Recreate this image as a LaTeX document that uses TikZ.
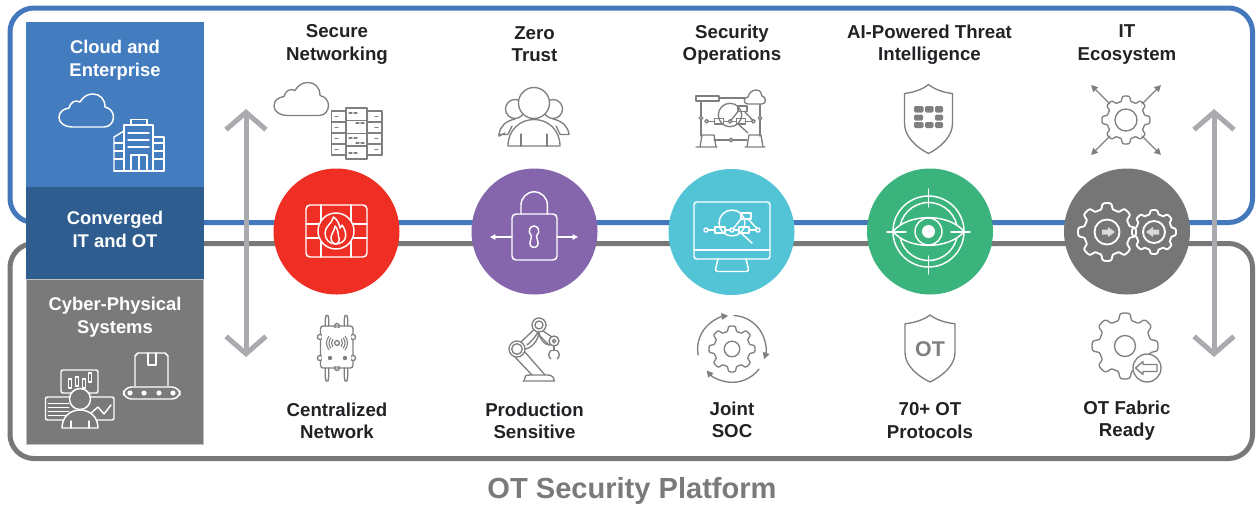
\documentclass[tikz,border=0pt]{standalone}
\usepackage{fontspec}
\setmainfont{Liberation Sans}
\usetikzlibrary{arrows.meta}
\definecolor{frameblue}{HTML}{4379BC}
\definecolor{framegray}{HTML}{787878}
\definecolor{panelblue}{HTML}{437CBF}
\definecolor{paneldark}{HTML}{2F5D90}
\definecolor{panelgray}{HTML}{7A7A7A}
\definecolor{arrowgray}{HTML}{A9ABAE}
\definecolor{iconline}{HTML}{7F7F80}
\definecolor{inkdark}{HTML}{222226}
\definecolor{cred}{HTML}{F02F24}
\definecolor{cpurple}{HTML}{8566AC}
\definecolor{ccyan}{HTML}{53C4D6}
\definecolor{cgreen}{HTML}{3BB37D}
\definecolor{cgray}{HTML}{767676}
\tikzset{
 frameline/.style={line width=3.75pt,rounded corners=18pt},
 head/.style={font=\bfseries\fontsize{14pt}{16.6pt}\selectfont,text=inkdark,align=center,inner sep=0pt},
 panelhead/.style={font=\bfseries\fontsize{13.8pt}{17.2pt}\selectfont,text=white,align=center,inner sep=0pt},
 bigdot/.style={circle,inner sep=0pt,minimum size=94.5pt},
 gi/.style={draw=iconline,line width=1pt,line join=round,line cap=round},
 wi/.style={draw=white,line width=1.1pt,line join=round,line cap=round},
 updown/.style={draw=arrowgray,line width=3.75pt,{Straight Barb[length=13pt,width=30pt,line width=3.75pt]}-{Straight Barb[length=13pt,width=30pt,line width=3.75pt]}},
}
\newcommand{\gearicon}[6]{% style, cx, cy, ro, ri, phase-free
 \draw[#1] plot[domain=0:360,samples=289,variable=\t,smooth] ({#2+(#4+#5)/2*1+(#4-#5)/2*tanh(2.6*cos(#6*\t))-0*\t)*cos(\t)},{0});}
\newcommand{\gearshape}[6]{%
 \draw[#1] plot[domain=0:360,samples=241,variable=\t] ({#2+((#4+#5)/2+(#4-#5)/2*tanh(2.6*cos(#6*\t)))*cos(\t)},{#3+((#4+#5)/2+(#4-#5)/2*tanh(2.6*cos(#6*\t)))*sin(\t)}) -- cycle;}
\newcommand{\cloudshape}[1]{%
 (72,127) -- (104,127) .. controls (110,127) and (113.5,122) .. (113.5,117) .. controls (113.5,112) and (110,108) .. (105,107) .. controls (105,99) and (100,94) .. (93,94) .. controls (87,94) and (83,97) .. (80,102) .. controls (75,99) and (70,103) .. (69,108) .. controls (63,109) and (59,112) .. (59,117.5) .. controls (59,123) and (65,127) .. (72,127) -- cycle}
\newcommand{\netglyph}[1]{% origin at glyph circle centre, px of the cyan icon
 \draw[#1] (0,0) circle (13);
 \draw[#1] (-26,7) circle (2) (26,7) circle (2) (0,7) circle (2);
 \draw[#1] (-24,7) -- (-17,7) (-7,7) -- (-2,7) (2,7) -- (7,7) (17,7) -- (24,7);
 \draw[#1] (-17,4) rectangle (-7,10);
 \draw[#1] (7,4) rectangle (17,10);
 \draw[#1] (9,-10) rectangle (19,-4);
 \draw[#1] (1,6) -- (9,-4) (16,-4) -- (25,5.5);
 \draw[#1] (9,10) -- (20,20);
}
\begin{document}
\begin{tikzpicture}[x=0.75pt,y=-0.75pt]
\useasboundingbox (0,0) rectangle (1260,508);
% frames
\draw[frameline,draw=frameblue] (10,8) rectangle (1252.5,222.5);
\draw[frameline,draw=framegray] (10,243.5) rectangle (1252.5,458.5);
% left panels
\fill[panelblue] (26,22) rectangle (204,187);
\fill[paneldark] (26,187) rectangle (204,279);
\draw[fill=panelgray,draw=black!25,line width=0.4pt] (26.3,279) rectangle (203.7,444);
\node[panelhead] (pcloud) at (115,60) {Cloud and\\Enterprise};
\node[panelhead] (pconv) at (115,229) {Converged\\IT and OT};
\node[panelhead] (pcyber) at (115,317) {Cyber-Physical\\Systems};
% cloud + building
\draw[wi] \cloudshape{};
\draw[wi] (124,171) -- (124,125) -- (153,125) -- (153,171);
\draw[wi] (131,125) -- (131,119.5) -- (147,119.5) -- (147,125);
\draw[wi] (114,171) -- (114,137) -- (124,131);
\draw[wi] (153,137) -- (164,137) -- (164,171) -- (114,171);
\draw[wi] (128,133) -- (149,133) (128,140) -- (149,140) (128,147) -- (149,147);
\draw[wi] (131,171) -- (131,155) -- (147,155) -- (147,171) (139,155) -- (139,171);
\foreach \yy in {143,151,159}{\draw[wi,line width=0.8pt] (114,\yy) -- (124,\yy) (153,\yy) -- (164,\yy);}
% conveyor
\draw[wi] (135,386) -- (135,356) -- (138,353) -- (165,353) -- (168,356) -- (168,386);
\draw[wi] (148,353) -- (148,365) -- (156,365) -- (156,353);
\draw[wi,rounded corners=6pt] (123.5,387) rectangle (180,399);
\foreach \xx in {130,144,159,173}{\fill[white] (\xx,393) circle (2.6);}
% person + screens
\draw[wi,rounded corners=1.5pt] (61,370) rectangle (98,393);
\foreach \xx/\tt in {68.5/379,75.5/377,82.5/379,88.5/373}{\draw[wi,line width=0.8pt] (\xx,\tt) rectangle ++(3,9);}
\draw[wi,rounded corners=1.5pt] (45.5,397) rectangle (114,420);
\foreach \yy in {403,407,411,415}{\draw[wi,line width=0.7pt] (48,\yy) -- (69,\yy);}
\draw[wi] (91,413) -- (98,407) -- (104,414) -- (111,405);
\draw[wi,fill=panelgray] (62,428) .. controls (62,417) and (70,410) .. (80,410) .. controls (90,410) and (98,417) .. (98,428) -- cycle;
\draw[wi,fill=panelgray] (80,399) circle (10.5);
\draw[wi,line width=0.8pt] (71,428) -- (71,421) (89,428) -- (89,421);
% arrows
\coordinate (la) at (246,109);\coordinate (lb) at (246,357);
\coordinate (ra) at (1214,109);\coordinate (rb) at (1214,357);
\draw[updown] (la) -- (lb);
\draw[updown] (ra) -- (rb);
% dots
\node[bigdot,fill=cred] (c1) at (336.5,231.5) {};
\node[bigdot,fill=cpurple] (c2) at (534.5,231.5) {};
\node[bigdot,fill=ccyan] (c3) at (731.5,232) {};
\node[bigdot,fill=cgreen] (c4) at (930,231.5) {};
\node[bigdot,fill=cgray] (c5) at (1127,231.5) {};
% headings
\node[head] (h1) at (337,44.5) {Secure\\Networking};
\node[head] (h2) at (534.5,44.5) {Zero\\Trust};
\node[head] (h3) at (732,44.5) {Security\\Operations};
\node[head] (h4) at (929.5,44.5) {AI-Powered Threat\\Intelligence};
\node[head] (h5) at (1127,44.5) {IT\\Ecosystem};
\node[head] (b1) at (337,420.5) {Centralized\\Network};
\node[head] (b2) at (534.5,420.5) {Production\\Sensitive};
\node[head] (b3) at (732,420) {Joint\\SOC};
\node[head] (b4) at (930,420.5) {70+ OT\\Protocols};
\node[head] (b5) at (1127,420.5) {OT Fabric\\Ready};
\node[font=\bfseries\fontsize{21.8pt}{24pt}\selectfont,text=panelgray,inner sep=0pt] (title) at (632,491) {OT Security Platform};
% --- secure networking
\begin{scope}[shift={(215,-11.5)}]\draw[gi] \cloudshape{};\end{scope}
\draw[gi] (331.5,111) rectangle (346,155);
\draw[gi] (367,111) rectangle (382,155);
\draw[gi,fill=white] (346,108) rectangle (367,159);
\foreach \yy in {122,133,144}{\draw[gi] (331.5,\yy) -- (346,\yy) (367,\yy) -- (382,\yy);}
\foreach \yy in {120.5,133.5,146}{\draw[gi] (346,\yy) -- (367,\yy);}
\foreach \yy in {116.5,127.5,138.5,149.5}{\draw[gi,line width=0.8pt] (335,\yy) -- (338,\yy) (375,\yy) -- (378,\yy);}
\foreach \yy in {113,138,153}{\draw[gi,line width=0.8pt] (349,\yy) -- (352,\yy) (354,\yy) -- (357,\yy);}
\foreach \yy in {123,143}{\draw[gi,line width=0.8pt] (356,\yy) -- (359,\yy) (361,\yy) -- (364,\yy);}
% --- firewall
\draw[wi,rounded corners=3pt] (306,205) rectangle (367,257);
\draw[wi] (321,205) -- (321,257) (351,205) -- (351,257) (306,224) -- (367,224) (306,238) -- (367,238);
\draw[wi,fill=cred] (336,231) circle (18);
\draw[wi] (335.5,244) .. controls (329,244) and (325,239) .. (325,233) .. controls (325,226) and (332,224) .. (333.5,217) .. controls (338,220) and (339,224) .. (340,228) .. controls (341,227) and (342,226) .. (342,225) .. controls (345,229) and (346,233) .. (345.5,237) .. controls (345,241) and (341,244) .. (335.5,244) -- cycle;
\draw[wi] (335,244) .. controls (331,242) and (330,238) .. (332,234) .. controls (333,232) and (335,229) .. (335,226) .. controls (338,229) and (338,233) .. (338.5,236) .. controls (340,240) and (339,243) .. (336,244);
% --- zero trust
\draw[gi] (505,133) .. controls (498,136) and (499,138) .. (499,134);
\draw[gi] (515,109) circle (9.5) (553,109) circle (9.5);
\draw[gi] (508,134.5) -- (499,134.5) .. controls (500,126) and (506,121) .. (515,119);
\draw[gi] (560,134.5) -- (569,134.5) .. controls (568,126) and (562,121) .. (553,119);
\draw[gi] (512,126) -- (508,134);\draw[gi] (556,126) -- (560,134);
\draw[gi,fill=white] (508,146) .. controls (508,130) and (520,119.5) .. (534,119.5) .. controls (548,119.5) and (560,130) .. (560,146) -- cycle;
\draw[gi,fill=white] (534,103) circle (15.5);
\draw[gi] (521,146) -- (521,134) (547,146) -- (547,134);
% --- lock
\draw[wi,rounded corners=3pt] (512,214) rectangle (557,260);
\draw[wi] (521,214) -- (521,205) arc[start angle=180,end angle=360,radius=13.2] -- (547.4,214);
\draw[wi] (531.5,236) .. controls (527,231) and (530,226) .. (534,226) .. controls (538,226) and (541,231) .. (536.5,236) .. controls (537,240) and (539,243) .. (537.5,245.5) .. controls (536,248) and (532,248) .. (530.5,245.5) .. controls (529,243) and (531,240) .. (531.5,236) -- cycle;
\coordinate (lka) at (512,237);\coordinate (lkb) at (490,237);\coordinate (lkc) at (557,237);\coordinate (lkd) at (578,237);
\draw[wi,-{Triangle[length=4pt,width=4pt]}] (lka) -- (lkb);
\draw[wi,-{Triangle[length=4pt,width=4pt]}] (lkc) -- (lkd);
% --- security ops
\draw[gi,line width=1.2pt] (696,96) rectangle (719,101);
\draw[gi] (701,101) -- (701,136) (760,104) -- (760,136) (719,98) -- (745,98);
\draw[gi,fill=white] (701,118) circle (1.8) (760,118) circle (1.8);
\draw[gi,fill=white] (748,104) .. controls (743,104) and (743,97) .. (748,97) .. controls (749,93) and (752,90) .. (756,90) .. controls (760,90) and (762,93) .. (762,96) .. controls (766,96) and (767,104) .. (762,104) -- cycle;
\draw[gi] (700,147) -- (702,135) -- (714,135) -- (716,147) (696,147) -- (717,147);
\draw[gi] (747,147) -- (749,135) -- (761,135) -- (763,147) (745,147) -- (765,147);
\draw[gi] (714,140) -- (729,140) (733,140) -- (747,140);
\draw[gi] (731,140) circle (1.9);
\begin{scope}[shift={(730,115)},scale=0.9]\netglyph{gi}\end{scope}
% --- monitor
\draw[wi,rounded corners=2pt] (694,202) rectangle (770,259);
\draw[wi] (694,250) -- (770,250);
\draw[wi,rounded corners=2pt] (718,259) -- (715,271.5) -- (749,271.5) -- (746,259);
\begin{scope}[shift={(732,223)}]\netglyph{wi}\end{scope}
% --- AI shield
\newcommand{\shieldpath}{(0,0) .. controls (6,5) and (15,8) .. (24,9) -- (24,39) .. controls (24,52) and (12,63) .. (0,69) .. controls (-12,63) and (-24,52) .. (-24,39) -- (-24,9) .. controls (-15,8) and (-6,5) .. (0,0) -- cycle}
\begin{scope}[shift={(928.5,84.5)}]\draw[gi] \shieldpath;\end{scope}
\foreach \xa/\ya/\xb/\yb in {914/106/923.5/112.5,925/106/933.5/112.5,935/106/943/112.5,914/114.5/923/120.5,935/114.5/943/120.5,914/122/923.5/128,925/122/933.5/128,935/122/943/128}{\fill[iconline,rounded corners=1pt] (\xa,\ya) rectangle (\xb,\yb);}
% --- eye
\draw[wi] (928.5,231.5) circle (35.5);
\draw[wi] (928.5,231.5) circle (29);
\draw[wi,fill=cgreen] (893,231.5) .. controls (908,213) and (949,213) .. (964,231.5) .. controls (949,250) and (908,250) .. (893,231.5) -- cycle;
\draw[wi,fill=cgreen] (928.5,231.5) circle (13.5);
\fill[white] (928.5,231.5) circle (6.5);
\draw[wi] (928.5,189) -- (928.5,207) (928.5,256) -- (928.5,274) (887,232) -- (906,232) (951,232) -- (970,232);
% --- IT gear
\gearshape{gi}{1126}{120}{24}{19}{8}
\draw[gi] (1126,120) circle (11);
\coordinate (ga) at (1110,104);\coordinate (gb) at (1091,85);\coordinate (gc) at (1142,104);\coordinate (gd) at (1161,85);
\coordinate (ge) at (1110,136);\coordinate (gf) at (1091,155);\coordinate (gg) at (1142,136);\coordinate (gh) at (1161,155);
\foreach \pa/\pb in {ga/gb,gc/gd,ge/gf,gg/gh}{\draw[gi,-{Triangle[length=5pt,width=5pt]}] (\pa) -- (\pb);}
% --- gears in circle
\gearshape{wi,line width=1.4pt}{1107}{232}{29}{23}{8}
\draw[wi,line width=1.4pt] (1107,232) circle (12.5);
\gearshape{wi,line width=1.4pt}{1154}{232}{22}{18}{8}
\draw[wi,line width=1.4pt] (1154,232) circle (11);
\fill[black!15] (1102,229.5) rectangle (1108,234.5) (1108,227) -- (1115,232) -- (1108,237) -- cycle;
\fill[black!15] (1153,229.5) rectangle (1159,234.5) (1153,227) -- (1146,232) -- (1153,237) -- cycle;
% --- router
\draw[gi,rounded corners=2pt] (320.5,326) rectangle (353,368);
\foreach \xx/\yy in {320/337,353/337,320/358,353/358}{\draw[gi,fill=white] (\xx,\yy) circle (2.6);}
\fill[white] (322,328) rectangle (351,366);
\draw[gi] (337,326) circle (2.5) (337,368) circle (2.5);
\fill[white] (322,328) rectangle (351,366);
\foreach \xx in {327,346}{\draw[gi] (\xx-1.8,326) -- (\xx-1.8,320) -- (\xx-1,315.5) -- (\xx+1,315.5) -- (\xx+1.8,320) -- (\xx+1.8,326);
 \draw[gi] (\xx-1.8,368) -- (\xx-1.8,376) -- (\xx-1,381) -- (\xx+1,381) -- (\xx+1.8,376) -- (\xx+1.8,368);}
\fill[iconline] (330,358) circle (2.2) (345,358) circle (2.2);
\draw[gi] (337,343) circle (2.4);
\foreach \rr in {5.5,8,10.5}{\draw[gi,line width=0.8pt] (337,343)+(140:\rr) arc[start angle=140,end angle=220,radius=\rr];
 \draw[gi,line width=0.8pt] (337,343)+(-40:\rr) arc[start angle=-40,end angle=40,radius=\rr];}
% --- robot
\draw[gi] (523,381) -- (554.5,381) (524,381) -- (525.5,376) .. controls (526,375) and (530,375) .. (532,375) -- (545,375) .. controls (549,375) and (552,375) .. (553,377) -- (554.5,381);
\draw[gi] (515,357) -- (532,375) (524,351) -- (545,375);
\draw[gi] (521,342) -- (534,329.5) (527,345) .. controls (532,341) and (536,336) .. (538,332);
\draw[gi] (543,331) -- (552,337) (537,333) -- (549,345);
\draw[gi] (524,349) .. controls (532,349) and (538,340) .. (539,333);
\draw[gi] (539,333) .. controls (540,340) and (545,345) .. (550,345);
\draw[gi,fill=white] (517,349) circle (8) (517,349) circle (5.3);
\draw[gi,fill=white] (539,325) circle (7) (539,325) circle (4);
\draw[gi,fill=white] (554,341) circle (5) (554,341) circle (1.8);
\draw[gi] (554,346) -- (554,350.5) (551,350.5) -- (557,350.5);
\draw[gi] (551,350.5) .. controls (548,353) and (548,357) .. (551,359);
\draw[gi] (557,350.5) .. controls (560,353) and (560,357) .. (557,359);
% --- joint soc
\gearshape{gi}{732}{349}{23}{18}{8}
\draw[gi] (732,349) circle (7.8);
\draw[gi,-{Triangle[length=5pt,width=5pt]}] (698.6,349)+(0,0) ++(-0.5,6) arc[start angle=170,end angle=265,radius=33.5];
\draw[gi,-{Triangle[length=5pt,width=5pt]}] (734,315.5) arc[start angle=-87,end angle=18,radius=33.5];
\draw[gi,-{Triangle[length=5pt,width=5pt]}] (759,369) arc[start angle=37,end angle=140,radius=33.5];
% --- OT shield
\begin{scope}[shift={(930,315)},yscale=0.97,xscale=1.04]\draw[gi] \shieldpath;\end{scope}
\node[font=\bfseries\fontsize{16pt}{16pt}\selectfont,text=iconline,inner sep=0pt] (otl) at (930,349) {OT};
% --- OT fabric gear
\gearshape{gi}{1125}{346}{33}{26}{8}
\draw[gi] (1125,346) circle (10.5);
\draw[gi,fill=white] (1147,368) circle (14);
\draw[gi] (1135.5,368) -- (1143,361.5) -- (1143,364.5) -- (1157,364.5) -- (1157,371.5) -- (1143,371.5) -- (1143,374.5) -- cycle;
\end{tikzpicture}
\end{document}
